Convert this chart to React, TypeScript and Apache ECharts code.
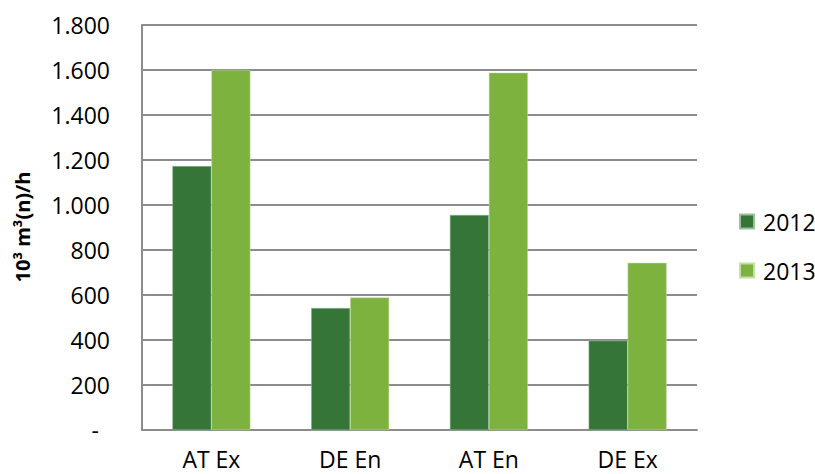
import React, { useEffect, useRef } from "react";
import * as echarts from "echarts";

const categories = ["AT Ex", "DE En", "AT En", "DE Ex"];
const series2012 = [1173, 542, 956, 397];
const series2013 = [1600, 589, 1588, 743];
const seriesNames = ["2012", "2013"];
const yAxisTitle = "10³ m³(n)/h";

const FONT = "'Open Sans', sans-serif";

function fmt(v: number): string {
  if (v === 0) return "{d|-}";
  const s = String(Math.round(v));
  return s.replace(/\B(?=(\d{3})+(?!\d))/g, ".");
}

export default function App() {
  const ref = useRef<HTMLDivElement>(null);
  useEffect(() => {
    if (!ref.current) return;
    const chart = echarts.init(ref.current, null, { renderer: "svg" });
    chart.setOption({
      animation: false,
      backgroundColor: "#ffffff",
      textStyle: { fontFamily: FONT },
      grid: { left: 142, right: 118, top: 25, bottom: 44, containLabel: false },
      legend: {
        orient: "vertical",
        left: 739,
        top: 209,
        padding: 0,
        itemWidth: 14,
        itemHeight: 14,
        itemGap: 24,
        icon: "rect",
        textStyle: { fontSize: 23, color: "#000", fontFamily: FONT, lineHeight: 25, padding: [0, 0, 0, 4] },
        data: seriesNames,
      },
      xAxis: {
        type: "category",
        data: categories,
        axisLine: { show: true, lineStyle: { color: "#8c8c8c", width: 2 } },
        axisTick: { show: false },
        axisLabel: { fontSize: 23, color: "#000", fontFamily: FONT, margin: 18, lineHeight: 22 },
      },
      yAxis: {
        type: "value",
        min: 0,
        max: 1800,
        interval: 200,
        axisLine: { show: true, lineStyle: { color: "#8c8c8c", width: 2 } },
        axisTick: { show: false },
        splitLine: { show: true, lineStyle: { color: "#8c8c8c", width: 2 } },
        axisLabel: {
          fontSize: 23,
          color: "#000",
          fontFamily: FONT,
          margin: 32,
          formatter: (v: number) => fmt(v),
          rich: { d: { fontSize: 23, fontFamily: FONT, color: "#000", padding: [0, 11, 0, 0] } },
        },
      },
      graphic: [
        {
          type: "text",
          x: 22,
          y: 227,
          rotation: Math.PI / 2,
          style: {
            text: yAxisTitle,
            fontSize: 20,
            fontWeight: "bold",
            fontFamily: FONT,
            fill: "#000",
            align: "center",
            verticalAlign: "middle",
          },
        },
      ],
      series: [
        {
          name: seriesNames[0],
          type: "bar",
          data: series2012,
          barWidth: 39,
          barGap: "0%",
          itemStyle: { color: "#357537", borderColor: "#9bbf9b", borderWidth: 0.5 },
        },
        {
          name: seriesNames[1],
          type: "bar",
          data: series2013,
          barWidth: 39,
          barGap: "0%",
          itemStyle: { color: "#7db23e", borderColor: "#c4dea6", borderWidth: 0.5 },
        },
      ],
    });
    return () => chart.dispose();
  }, []);
  return (
    <div
      ref={ref}
      style={{ position: "fixed", left: 0, top: 0, width: 815, height: 474, background: "#fff" }}
    />
  );
}
